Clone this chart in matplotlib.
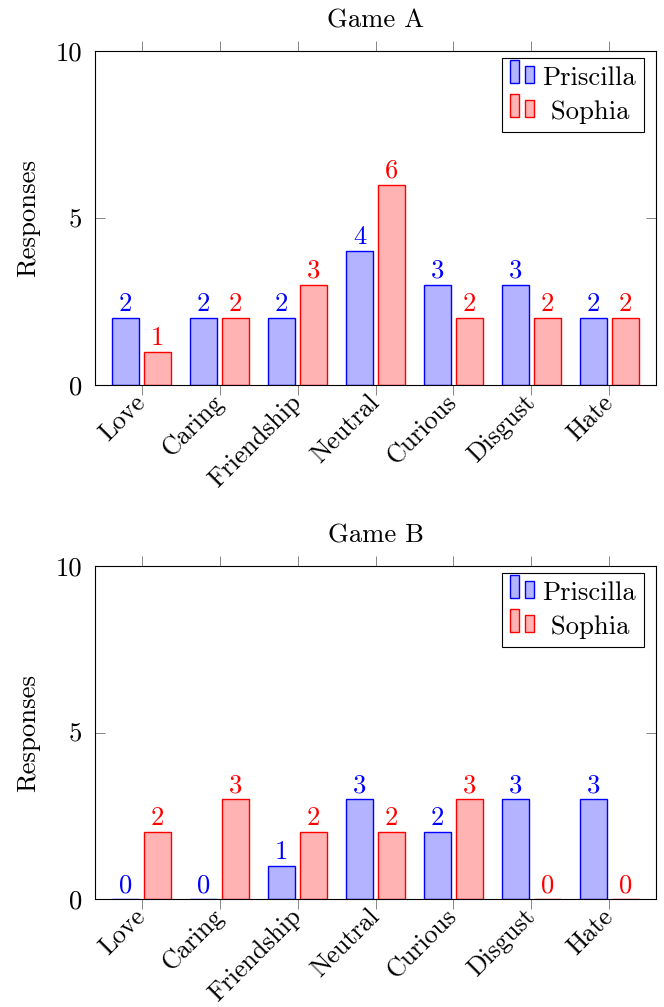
import matplotlib
matplotlib.use("Agg")
import matplotlib.pyplot as plt
from matplotlib.patches import Rectangle
from matplotlib.legend_handler import HandlerBase
import numpy as np

plt.rcParams["font.family"] = "cmr10"
plt.rcParams["axes.formatter.use_mathtext"] = True
plt.rcParams["mathtext.fontset"] = "cm"

categories = ["Love", "Caring", "Friendship", "Neutral", "Curious", "Disgust", "Hate"]
game_a_priscilla = [2, 2, 2, 4, 3, 3, 2]
game_a_sophia = [1, 2, 3, 6, 2, 2, 2]
game_b_priscilla = [0, 0, 1, 3, 2, 3, 3]
game_b_sophia = [2, 3, 2, 2, 3, 0, 0]
yticks = [0, 5, 10]
series_names = ["Priscilla", " Sophia"]  # leading space roughly centres it like pgfplots

blue_fill = (0.7, 0.7, 1.0)
red_fill = (1.0, 0.7, 0.7)
fs = 19.2
fs_x = 18.6


class TwoBarHandler(HandlerBase):
    # pgfplots style ybar legend image: two small bars of different heights
    def create_artists(self, legend, orig_handle, xdescent, ydescent,
                       width, height, fontsize, trans):
        fc = orig_handle.get_facecolor()
        ec = orig_handle.get_edgecolor()
        w = width * 0.38
        y0 = -ydescent + 0.1 * height
        r1 = Rectangle((-xdescent, y0), w, height * 1.22,
                       facecolor=fc, edgecolor=ec, lw=1.0, transform=trans)
        r2 = Rectangle((-xdescent + width * 0.62, y0), w, height * 0.9,
                       facecolor=fc, edgecolor=ec, lw=1.0, transform=trans)
        return [r1, r2]


fig = plt.figure(figsize=(6.64, 10.07), dpi=100)
ax_a = fig.add_axes([95 / 664, 1 - 385 / 1007, 561 / 664, 334 / 1007])
ax_b = fig.add_axes([95 / 664, 1 - 899 / 1007, 561 / 664, 333 / 1007])

x = np.arange(len(categories))
bw = 0.35
off = 0.205

for ax, title, pris, soph in [(ax_a, "Game A", game_a_priscilla, game_a_sophia),
                              (ax_b, "Game B", game_b_priscilla, game_b_sophia)]:
    bp = ax.bar(x - off, pris, bw, facecolor=blue_fill, edgecolor="blue", lw=1.0)
    bs = ax.bar(x + off, soph, bw, facecolor=red_fill, edgecolor="red", lw=1.0)
    for xi, v in zip(x, pris):
        ax.annotate(str(v), (xi - off, v), xytext=(0, 5), textcoords="offset points",
                    ha="center", va="baseline", color="blue", fontsize=fs)
    for xi, v in zip(x, soph):
        ax.annotate(str(v), (xi + off, v), xytext=(0, 5), textcoords="offset points",
                    ha="center", va="baseline", color="red", fontsize=fs)

    ax.set_xlim(-0.6, 6.6)
    ax.set_ylim(0, 10)
    ax.set_xticks(x)
    ax.set_xticklabels(categories, rotation=45, ha="right", va="center",
                       rotation_mode="anchor", fontsize=fs_x)
    ax.set_yticks(yticks)
    ax.set_yticklabels([str(t) for t in yticks], fontsize=fs)
    ax.tick_params(axis="x", direction="out", top=True, length=7, width=0.6,
                   color="0.45", pad=3)
    ax.tick_params(axis="y", direction="in", right=True, length=7, width=0.6,
                   color="0.45", pad=9)
    for sp in ax.spines.values():
        sp.set_linewidth(0.8)
    ax.set_ylabel("Responses", fontsize=fs, labelpad=11)
    ax.set_title(title, fontsize=fs, pad=17)

    leg = ax.legend(handler_map={type(bp.patches[0]): TwoBarHandler()},
                    handles=[bp.patches[0], bs.patches[0]],
                    labels=series_names,
                    loc="upper right", bbox_to_anchor=(1 - 12 / 561, 1 - 7 / 334),
                    borderaxespad=0, fontsize=fs, fancybox=False, framealpha=1,
                    edgecolor="black", handlelength=0.9, handletextpad=0.3,
                    borderpad=0.3, labelspacing=0.4)
    leg.get_frame().set_linewidth(0.8)

fig.savefig("out.png", dpi=100)
